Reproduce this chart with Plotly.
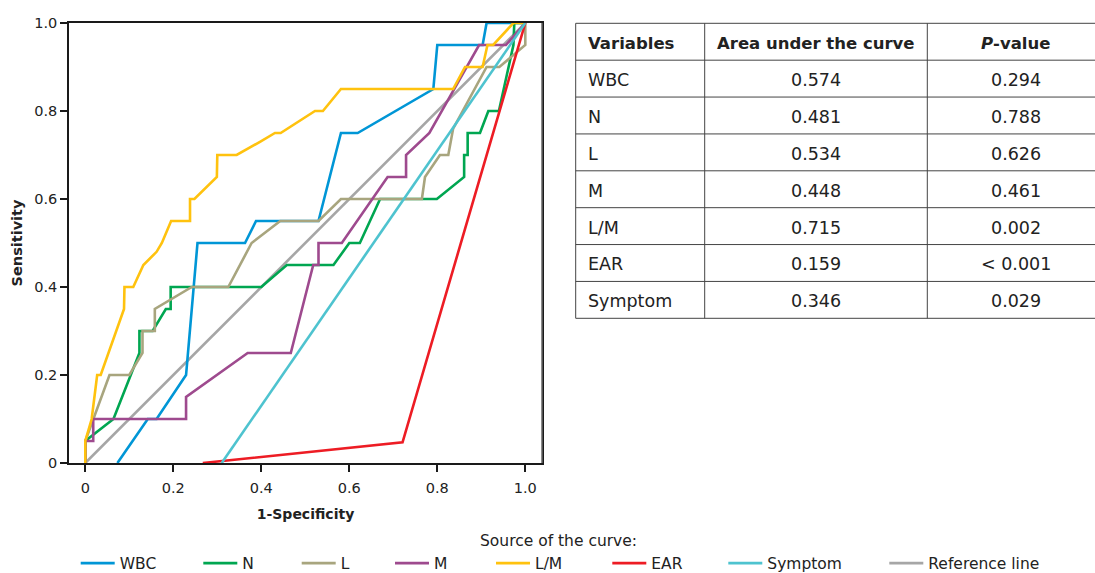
import plotly.graph_objects as go

W, H = 1095, 573
FONT = "DejaVu Sans"
TXT = "#222222"

# ---- data (1-specificity, sensitivity) ----
wbc_x = [0.073, 0.142, 0.162, 0.229, 0.255, 0.363, 0.388, 0.530, 0.581, 0.619, 0.791, 0.800, 0.903, 0.912, 1.0]
wbc_y = [0.0, 0.10, 0.10, 0.20, 0.50, 0.50, 0.55, 0.55, 0.75, 0.75, 0.85, 0.95, 0.95, 1.0, 1.0]

n_x = [0.0, 0.0, 0.064, 0.123, 0.123, 0.153, 0.183, 0.194, 0.194, 0.400, 0.458, 0.564, 0.600, 0.624, 0.670, 0.799, 0.861, 0.861, 0.869, 0.869, 0.897, 0.916, 0.940, 0.973, 0.975, 1.0]
n_y = [0.0, 0.05, 0.10, 0.25, 0.30, 0.30, 0.35, 0.35, 0.40, 0.40, 0.45, 0.45, 0.50, 0.50, 0.60, 0.60, 0.65, 0.70, 0.70, 0.75, 0.75, 0.80, 0.80, 0.95, 1.0, 1.0]

l_x = [0.0, 0.0, 0.055, 0.100, 0.130, 0.130, 0.158, 0.158, 0.242, 0.325, 0.378, 0.443, 0.530, 0.581, 0.765, 0.772, 0.806, 0.825, 0.836, 0.912, 0.941, 1.0, 1.0]
l_y = [0.0, 0.05, 0.20, 0.20, 0.25, 0.30, 0.30, 0.35, 0.40, 0.40, 0.50, 0.55, 0.55, 0.60, 0.60, 0.65, 0.70, 0.70, 0.76, 0.90, 0.90, 0.95, 1.0]

m_x = [0.0, 0.0, 0.018, 0.018, 0.229, 0.229, 0.369, 0.467, 0.518, 0.530, 0.530, 0.583, 0.687, 0.729, 0.729, 0.782, 0.895, 0.956, 1.0]
m_y = [0.0, 0.05, 0.05, 0.10, 0.10, 0.15, 0.25, 0.25, 0.45, 0.45, 0.50, 0.50, 0.65, 0.65, 0.70, 0.75, 0.95, 0.95, 1.0]

lm_x = [0.0, 0.0, 0.0145, 0.027, 0.035, 0.088, 0.089, 0.109, 0.132, 0.162, 0.174, 0.195, 0.238, 0.238, 0.248, 0.299, 0.300, 0.344, 0.397, 0.431, 0.444, 0.522, 0.540, 0.581, 0.836, 0.863, 0.903, 0.914, 0.927, 0.973, 1.0]
lm_y = [0.0, 0.05, 0.10, 0.20, 0.20, 0.35, 0.40, 0.40, 0.45, 0.48, 0.50, 0.55, 0.55, 0.60, 0.60, 0.65, 0.70, 0.70, 0.73, 0.75, 0.75, 0.80, 0.80, 0.85, 0.85, 0.90, 0.90, 0.95, 0.95, 1.0, 1.0]

ear_x = [0.267, 0.721, 1.0]
ear_y = [0.0, 0.047, 1.0]

sym_x = [0.310, 1.0]
sym_y = [0.0, 1.0]

ref_x = [0.0, 1.0]
ref_y = [0.0, 1.0]

names = ["WBC", "N", "L", "M", "L/M", "EAR", "Symptom", "Reference line"]
colors = ["#0096D6", "#00A651", "#A8A57E", "#9E4A8E", "#FFC20E", "#ED1C24", "#4EC3CF", "#A6A6A6"]
series = [(wbc_x, wbc_y), (n_x, n_y), (l_x, l_y), (m_x, m_y), (lm_x, lm_y),
          (ear_x, ear_y), (sym_x, sym_y), (ref_x, ref_y)]
legend_start_px = [80.7, 203.3, 301.7, 395.0, 496.0, 612.3, 728.3, 889.3]

# ---- table data ----
tbl_header = ["<b>Variables</b>", "<b>Area under the curve</b>", "<b><i>P</i>-value</b>"]
tbl_vars = ["WBC", "N", "L", "M", "L/M", "EAR", "Symptom"]
tbl_auc = ["0.574", "0.481", "0.534", "0.448", "0.715", "0.159", "0.346"]
tbl_p = ["0.294", "0.788", "0.626", "0.461", "0.002", "< 0.001", "0.029"]

fig = go.Figure()

# reference line first so it sits underneath
order = [7, 0, 1, 2, 3, 4, 5, 6]
for i in order:
    xs, ys = series[i]
    lg = "legend" if i == 0 else f"legend{i+1}"
    fig.add_trace(go.Scatter(x=xs, y=ys, mode="lines", name=names[i],
                             line=dict(color=colors[i], width=2.6),
                             legend=lg, showlegend=True, hoverinfo="skip"))

# plot frame geometry (pixels)
L, R, T, B = 69, 542, 23, 463
x0px, x1px = 85.3, 525.3
ppu = (x1px - x0px)
xr = [(L - x0px) / ppu, (R - x0px) / ppu]

axis_font = dict(family=FONT, size=14.5, color=TXT)
fig.update_layout(
    width=W, height=H,
    margin=dict(l=0, r=0, t=0, b=0, autoexpand=False),
    paper_bgcolor="white", plot_bgcolor="white",
    font=dict(family=FONT, size=15, color=TXT),
    xaxis=dict(domain=[L / W, R / W], range=xr, showgrid=False, zeroline=False,
               showline=True, linecolor="#1a1a1a", linewidth=1.5, mirror=True,
               ticks="outside", ticklen=7, tickcolor="#1a1a1a", tickwidth=1.5,
               tickvals=[0, 0.2, 0.4, 0.6, 0.8, 1.0],
               ticktext=["0", "0.2", "0.4", "0.6", "0.8", "1.0"],
               tickfont=axis_font, ticklabelstandoff=4,
               title=dict(text="<b>1-Specificity</b>", font=dict(family=FONT, size=14, color=TXT), standoff=14)),
    yaxis=dict(domain=[1 - B / H, 1 - T / H], range=[0, 1], showgrid=False, zeroline=False,
               showline=True, linecolor="#1a1a1a", linewidth=1.5, mirror=True,
               ticks="outside", ticklen=7, tickcolor="#1a1a1a", tickwidth=1.5,
               tickvals=[0, 0.2, 0.4, 0.6, 0.8, 1.0],
               ticktext=["0", "0.2", "0.4", "0.6", "0.8", "1.0"],
               tickfont=axis_font,
               title=dict(text="<b>Sensitivity</b>", font=dict(family=FONT, size=14.5, color=TXT), standoff=8)),
)

# right frame edge in gray
fig.add_shape(type="line", xref="paper", yref="paper",
              x0=R / W, x1=R / W, y0=1 - B / H, y1=1 - T / H,
              line=dict(color="#666666", width=1.5))

# one legend per entry so each sits at its own horizontal position
leg_y = (H - 563.5) / H
for i in range(8):
    key = "legend" if i == 0 else f"legend{i+1}"
    fig.update_layout({key: dict(x=(legend_start_px[i] - 5) / W, xanchor="left",
                                 y=leg_y, yanchor="middle", orientation="h",
                                 bgcolor="rgba(0,0,0,0)", borderwidth=0,
                                 font=dict(family=FONT, size=15.5, color=TXT),
                                 itemwidth=34, tracegroupgap=0)})

fig.add_annotation(text="Source of the curve:", xref="paper", yref="paper",
                   x=558 / W, y=(H - 541) / H, xanchor="center", yanchor="middle",
                   showarrow=False, font=dict(family=FONT, size=15.5, color=TXT))

# ---- table drawn as a grid of lines with text in each cell ----
tbl_top = 23.3
row_h = 36.875
col_edges = [575.7, 704.7, 927.3]
col_text_x = [586.0, 816.0, 1015.7]
col_anchor = ["left", "center", "center"]
grid = dict(color="#444444", width=1)
n_rows = len(tbl_vars) + 1
tbl_bottom = tbl_top + n_rows * row_h

for k in range(n_rows + 1):
    py = tbl_top + k * row_h
    fig.add_shape(type="line", xref="paper", yref="paper",
                  x0=col_edges[0] / W, x1=1.0, y0=1 - py / H, y1=1 - py / H, line=grid)
for cx in col_edges:
    fig.add_shape(type="line", xref="paper", yref="paper",
                  x0=cx / W, x1=cx / W, y0=1 - tbl_top / H, y1=1 - tbl_bottom / H, line=grid)

columns = [tbl_vars, tbl_auc, tbl_p]
for r in range(n_rows):
    cy = tbl_top + (r + 0.5) * row_h + 1.5
    for c in range(3):
        txt = tbl_header[c] if r == 0 else columns[c][r - 1]
        fs = 16.5 if r == 0 else 17.5
        fig.add_annotation(text=txt, xref="paper", yref="paper",
                           x=col_text_x[c] / W, y=1 - cy / H,
                           xanchor=col_anchor[c], yanchor="middle", showarrow=False,
                           font=dict(family=FONT, size=fs, color=TXT))

fig.write_html("out.html")
